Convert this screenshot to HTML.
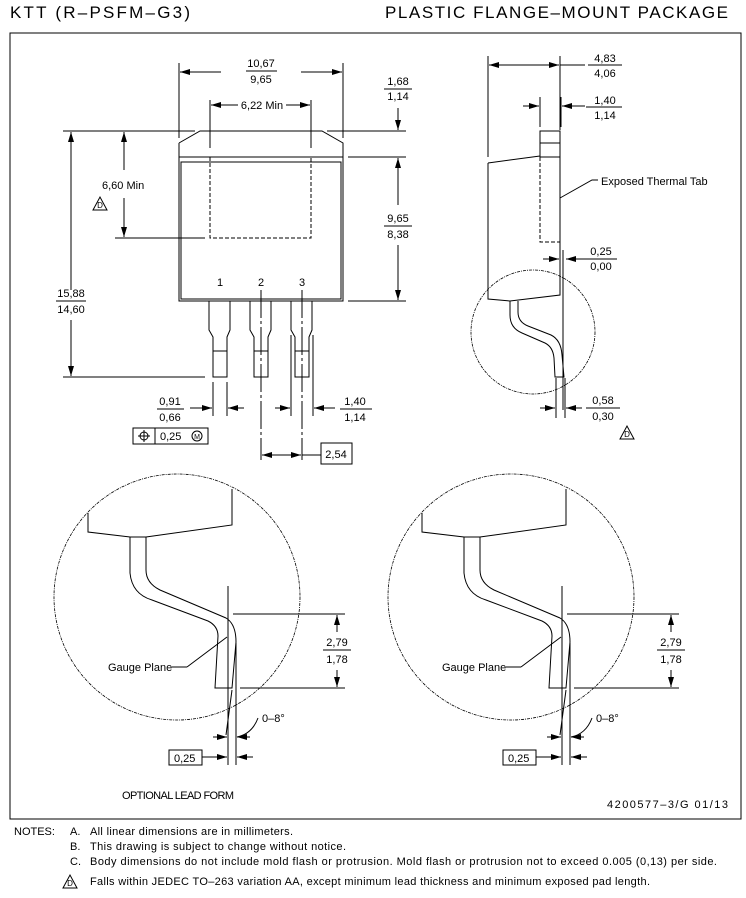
<!DOCTYPE html>
<html><head><meta charset="utf-8"><style>
html,body{margin:0;padding:0;background:#fff}
svg{display:block}
text{font-family:"Liberation Sans Narrow","Liberation Sans",sans-serif;fill:#000;font-size:11px}
.t{text-anchor:middle}
</style></head><body>
<svg width="746" height="898" viewBox="0 0 746 898" xmlns="http://www.w3.org/2000/svg">
<defs>
<marker id="a" viewBox="0 0 10 6" refX="10" refY="3" markerWidth="10" markerHeight="6" markerUnits="userSpaceOnUse" orient="auto"><path d="M0,0L10,3L0,6z" fill="#000"/></marker>
</defs>
<g stroke="#000" fill="none" stroke-width="1">
<rect x="10" y="33" width="731" height="786"/>

<path d="M179,143 L200,131 L322,131 L343,143 L343,157"/>
<path d="M179,143 L179,157"/>
<rect x="179" y="157" width="164" height="144"/>
<rect x="181" y="162" width="160" height="137"/>
<path d="M210,157 L210,238 L311,238 L311,157" stroke-dasharray="4,2"/>
<path d="M210,100 V148 M311,100 V148 M179,63 V138 M343,63 V138"/>
<line x1="221" y1="72" x2="180" y2="72" marker-end="url(#a)"/>
<line x1="301" y1="72" x2="342" y2="72" marker-end="url(#a)"/>
<line x1="238" y1="105" x2="211" y2="105" marker-end="url(#a)"/>
<line x1="286" y1="105" x2="310" y2="105" marker-end="url(#a)"/>
<path d="M209,301 V330 L213,337 V377 H227 V337 L230,330 V301 M213,351 H227"/>
<path d="M250,301 V330 L254,337 V377 H268 V337 L271,330 V301 M254,351 H268"/>
<path d="M291,301 V330 L295,337 V377 H309 V337 L312,330 V301 M295,351 H309"/>
<path d="M63,131 H195 M115,238 H205 M63,377 H205"/>
<line x1="71" y1="290" x2="71" y2="132" marker-end="url(#a)"/>
<line x1="71" y1="320" x2="71" y2="376" marker-end="url(#a)"/>
<line x1="124" y1="170" x2="124" y2="132" marker-end="url(#a)"/>
<line x1="124" y1="198" x2="124" y2="237" marker-end="url(#a)"/>
<path d="M327,131 H406 M348,157 H406 M348,301 H406"/>
<line x1="398" y1="108" x2="398" y2="130" marker-end="url(#a)"/>
<line x1="398" y1="205" x2="398" y2="158" marker-end="url(#a)"/>
<line x1="398" y1="245" x2="398" y2="300" marker-end="url(#a)"/>
<path d="M261,290 V460 M302,290 V460" stroke-dasharray="28,3,3,3"/>
<path d="M213,382 V416 M227,382 V416 M291,335 V416 M313,335 V416"/>
<line x1="190" y1="408" x2="212" y2="408" marker-end="url(#a)"/>
<line x1="244" y1="408" x2="228" y2="408" marker-end="url(#a)"/>
<line x1="275" y1="408" x2="290" y2="408" marker-end="url(#a)"/>
<line x1="335" y1="408" x2="314" y2="408" marker-end="url(#a)"/>
<line x1="280" y1="455" x2="262" y2="455" marker-end="url(#a)"/>
<line x1="280" y1="455" x2="301" y2="455" marker-end="url(#a)"/>
<path d="M302,455 H321"/>
<rect x="321" y="443" width="31" height="21"/>
<rect x="133" y="428" width="75" height="16"/>
<path d="M155,428 V444"/>
<circle cx="144" cy="436" r="4"/>
<path d="M138,436 H150 M144,430 V442"/>
<circle cx="197" cy="436" r="5"/>
<path d="M246,71 H277 M56,301 H86 M157,409 H184 M340,409 H372 M588,65 H622 M586,107 H622 M384,89 H412 M384,226 H412 M585,259 H617 M586,408 H620"/>

<path d="M488,163 L540,156 M488,163 V299 L510,301 L560,295 V131 M540,131 H560 V157 H540 Z M540,143 H560"/>
<path d="M540,157 V242 H560" stroke-dasharray="4,2"/>
<path d="M488,56 V157 M560,56 V130 M560,65 H585 M540,97 V127 M561,97 V127 M563,250 V410 M556,378 V418 M565,378 V418"/>
<line x1="520" y1="65" x2="489" y2="65" marker-end="url(#a)"/>
<line x1="520" y1="65" x2="559" y2="65" marker-end="url(#a)"/>
<line x1="523" y1="106" x2="539" y2="106" marker-end="url(#a)"/>
<line x1="585" y1="106" x2="562" y2="106" marker-end="url(#a)"/>
<line x1="543" y1="259" x2="559" y2="259" marker-end="url(#a)"/>
<line x1="587" y1="259" x2="566" y2="259" marker-end="url(#a)"/>
<line x1="540" y1="408" x2="555" y2="408" marker-end="url(#a)"/>
<line x1="582" y1="408" x2="566" y2="408" marker-end="url(#a)"/>
<path d="M560,198 L592,180 H598"/>
<path d="M510,301 V315 Q510,328 522,333 L545,343 Q553,347 554,358 L555,377 H564 L562,355 Q561,340 551,335 L528,326 Q518,322 518,312 V301"/>
<circle cx="533" cy="332" r="62" stroke-dasharray="3,1,1,1" stroke-width="0.8"/>

<g id="lf">
<circle cx="177" cy="597" r="123" stroke-dasharray="3,1,1,1" stroke-width="0.8"/>
<path d="M88,513 V532 L130,537 M146,537 L232,525 V489"/>
<path d="M130,537 H146"/>
<path d="M130,537 V573 Q132,594 152,600 L208,621 Q218,626 218,636 L215,688 H232 L236,642 Q236,624 226,618 L160,590 Q146,583 146,570 V537"/>
<path d="M228,586 V765 M236,643 V765 M233,614 H345 M240,688 H345"/>
<path d="M232,690 L226,735"/>
<line x1="337" y1="632" x2="337" y2="615" marker-end="url(#a)"/>
<line x1="337" y1="670" x2="337" y2="687" marker-end="url(#a)"/>
<path d="M323,650 H351"/>
<path d="M187,667 H172 M187,667 L227,637"/>
<line x1="213" y1="737" x2="227" y2="737" marker-end="url(#a)"/>
<path d="M258,718 Q252,734 237,737"/>
<line x1="250" y1="737" x2="237" y2="737" marker-end="url(#a)"/>
<rect x="169" y="750" width="33" height="15"/>
<line x1="202" y1="757" x2="227" y2="757" marker-end="url(#a)"/>
<line x1="253" y1="757" x2="237" y2="757" marker-end="url(#a)"/>
</g>
<use href="#lf" x="334" y="0"/>
<path d="M93,210 L100,197 L107,210 Z M620,439 L627,426 L634,439 Z M63,888 L70,875 L77,888 Z"/>
</g>

<g>
<text x="10" y="18" style="font-size:17px" textLength="180">KTT (R–PSFM–G3)</text>
<text x="385" y="18" style="font-size:17px" textLength="343">PLASTIC FLANGE–MOUNT PACKAGE</text>
<text class="t" x="261" y="67">10,67</text><text class="t" x="261" y="83">9,65</text>
<text class="t" x="262" y="109">6,22 Min</text>
<text x="102" y="189">6,60 Min</text>
<text class="t" x="100" y="208" style="font-size:8px">D</text>
<text class="t" x="71" y="297">15,88</text><text class="t" x="71" y="313">14,60</text>
<text class="t" x="398" y="85">1,68</text><text class="t" x="398" y="100">1,14</text>
<text class="t" x="398" y="222">9,65</text><text class="t" x="398" y="238">8,38</text>
<text class="t" x="220" y="286">1</text><text class="t" x="261" y="286">2</text><text class="t" x="302" y="286">3</text>
<text class="t" x="170" y="405">0,91</text><text class="t" x="170" y="421">0,66</text>
<text class="t" x="355" y="405">1,40</text><text class="t" x="355" y="421">1,14</text>
<text x="160" y="440">0,25</text>
<text class="t" x="197" y="439" style="font-size:7px">M</text>
<text class="t" x="336" y="458">2,54</text>
<text class="t" x="605" y="62">4,83</text><text class="t" x="605" y="77">4,06</text>
<text class="t" x="605" y="104">1,40</text><text class="t" x="605" y="119">1,14</text>
<text x="601" y="185">Exposed Thermal Tab</text>
<text class="t" x="601" y="255">0,25</text><text class="t" x="601" y="270">0,00</text>
<text class="t" x="603" y="404">0,58</text><text class="t" x="603" y="420">0,30</text>
<text class="t" x="627" y="437" style="font-size:8px">D</text>
<text class="t" x="337" y="646">2,79</text><text class="t" x="337" y="663">1,78</text>
<text x="108" y="671">Gauge Plane</text>
<text x="262" y="722">0–8°</text>
<text x="174" y="762">0,25</text>
<text class="t" x="671" y="646">2,79</text><text class="t" x="671" y="663">1,78</text>
<text x="442" y="671">Gauge Plane</text>
<text x="596" y="722">0–8°</text>
<text x="508" y="762">0,25</text>
<text x="122" y="799" textLength="112">OPTIONAL LEAD FORM</text>
<text x="607" y="808" textLength="121">4200577–3/G  01/13</text>
<text x="14" y="835">NOTES:</text>
<text x="70" y="835">A.</text><text x="90" y="835" textLength="203">All linear dimensions are in millimeters.</text>
<text x="70" y="850">B.</text><text x="90" y="850" textLength="256">This drawing is subject to change without notice.</text>
<text x="70" y="865">C.</text><text x="90" y="865" textLength="627">Body dimensions do not include mold flash or protrusion.  Mold flash or protrusion not to exceed 0.005 (0,13) per side.</text>
<text class="t" x="70" y="886" style="font-size:8px">D</text>
<text x="90" y="885" textLength="560">Falls within JEDEC TO–263 variation AA, except minimum lead thickness and minimum exposed pad length.</text>
</g>
</svg>
</body></html>
